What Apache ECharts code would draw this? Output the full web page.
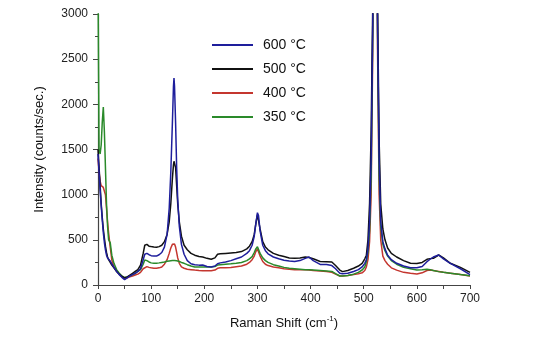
<!DOCTYPE html>
<html>
<head>
<meta charset="utf-8">
<script src="https://cdn.jsdelivr.net/npm/echarts@6/dist/echarts.min.js"></script>
<style>
html,body{margin:0;padding:0;background:#fff;}
#c{width:546px;height:349px;}
</style>
</head>
<body>
<div id="c"></div>
<script>
// Raman shift (cm-1)
const ramanShift = [
  0,2,4,6,8,10,12,14,16,18,
  20,23,26,30,35,40,45,50,55,60,
  65,70,75,80,85,88,92,96,100,105,
  110,115,120,125,130,134,137,140,142,143,
  144,146,148,150,153,157,162,168,175,182,
  190,197,205,213,220,225,230,240,250,260,
  270,280,285,290,294,297,300,302,305,310,
  315,320,330,340,350,360,370,380,390,397,
  405,418,430,440,447,455,460,470,481,490,
  497,502,505,508,511,514,517,519,521,523,
  526,529,532,536,540,545,552,562,575,588,
  600,610,619,625,631,641,650,663,682,700
];
// Intensity (counts/sec.)
const int600 = [
  1450,1250,1050,880,720,580,470,390,330,300,
  285,265,235,195,150,115,85,60,80,100,
  115,130,150,180,280,340,350,335,325,320,
  320,335,360,420,560,850,1250,1800,2200,2290,
  2200,1800,1300,950,650,450,340,270,235,225,
  220,222,205,200,210,235,245,255,270,290,
  310,350,380,440,540,680,800,770,600,440,
  380,345,310,290,275,265,260,270,295,310,
  270,228,228,215,180,130,125,130,150,170,
  200,240,280,400,700,1400,2900,6000,12000,6000,
  2900,1400,700,480,400,330,280,240,210,190,
  190,205,258,285,310,332,290,240,180,115
];
const int500 = [
  1500,1300,1100,900,750,620,520,430,360,310,
  280,250,220,190,150,120,95,80,90,110,
  130,150,170,220,350,440,450,430,425,420,
  418,425,440,480,560,700,900,1180,1330,1370,
  1385,1300,1100,900,700,540,440,390,350,330,
  315,310,295,285,300,340,345,350,355,360,
  370,400,430,480,560,680,780,760,620,480,
  420,390,350,330,315,300,295,300,310,305,
  290,260,258,255,215,165,148,160,185,210,
  240,290,330,500,900,1700,3100,6000,12000,6000,
  3100,1600,900,620,500,410,350,310,270,240,
  238,250,284,292,295,332,300,240,195,140
];
const int400 = [
  1400,1250,1150,1100,1090,1080,1070,1000,850,700,
  575,420,277,200,160,120,90,70,80,90,
  100,110,120,140,180,200,203,195,190,185,
  185,190,200,230,280,350,410,450,461,460,
  455,420,360,300,240,200,185,175,170,165,
  160,159,158,157,165,185,190,192,195,203,
  210,230,250,280,320,370,400,380,320,260,
  230,215,200,190,180,175,170,168,168,165,
  160,155,150,140,120,100,100,105,115,125,
  135,160,200,280,480,1000,2600,6000,12000,6000,
  2600,1000,500,320,270,230,190,165,140,130,
  122,135,160,166,160,150,140,130,115,100
];
const int350 = [
  3400,1500,1450,1550,1800,1970,1700,1300,900,650,
  500,470,330,240,170,130,100,80,90,100,
  115,130,150,170,230,277,270,255,245,241,
  241,245,250,255,262,266,268,270,270,270,
  270,269,268,265,260,250,240,225,210,200,
  200,200,200,200,205,221,225,230,235,241,
  250,270,290,314,360,400,424,410,350,300,
  270,250,225,210,195,185,180,175,170,168,
  165,160,155,150,125,100,100,105,120,140,
  166,200,260,360,600,1200,2800,6000,12000,6000,
  2800,1200,650,450,380,320,270,230,195,180,
  166,170,174,170,160,148,140,130,115,102
];
const seriesNames = ['600 °C','500 °C','400 °C','350 °C'];
const xTicks = [0,100,200,300,400,500,600,700];
const yTicks = [0,500,1000,1500,2000,2500,3000];

const pair = ys => ramanShift.map((x,i)=>[x, ys[i]]);
const FONT = '"Liberation Sans", Arial, sans-serif';
const mk = (name, ys, color) => ({
  name, type:'line', data: pair(ys), symbol:'none', clip:true,
  lineStyle:{color, width:1.5}, itemStyle:{color}, animation:false
});

const chart = echarts.init(document.getElementById('c'));
chart.setOption({
  animation:false,
  textStyle:{fontFamily:FONT},
  grid:{left:98, right:76, top:14, bottom:64},
  legend:{
    data:seriesNames, orient:'vertical', left:207, top:33,
    icon:'rect', itemWidth:41, itemHeight:2, itemGap:10,
    textStyle:{fontSize:14, color:'#111', fontFamily:FONT, padding:[0,0,0,5]}
  },
  xAxis:{
    type:'value', min:xTicks[0], max:xTicks[xTicks.length-1], interval:100,
    name:'Raman Shift (cm{sup|-1})', nameLocation:'middle', nameGap:30,
    nameTextStyle:{fontSize:13, color:'#111', fontFamily:FONT,
      rich:{sup:{fontSize:8, color:'#111', padding:[0,0,8,0]}}},
    axisLine:{lineStyle:{color:'#444', width:1.2}},
    axisTick:{length:4, lineStyle:{color:'#444'}},
    minorTick:{show:true, splitNumber:2, length:4, lineStyle:{color:'#444'}},
    axisLabel:{fontSize:12, color:'#222', margin:8, fontFamily:FONT, formatter: v => String(v)},
    splitLine:{show:false}
  },
  yAxis:{
    type:'value', min:yTicks[0], max:yTicks[yTicks.length-1], interval:500,
    name:'Intensity (counts/sec.)', nameLocation:'middle', nameGap:52,
    nameTextStyle:{fontSize:13, color:'#111', fontFamily:FONT},
    axisLine:{show:true, lineStyle:{color:'#444', width:1.2}},
    axisTick:{show:true, length:5, lineStyle:{color:'#444'}},
    minorTick:{show:true, splitNumber:2, length:3, lineStyle:{color:'#444'}},
    axisLabel:{fontSize:12, color:'#222', margin:10, fontFamily:FONT, formatter: v => String(v)},
    splitLine:{show:false}
  },
  series:[
    mk(seriesNames[2], int400, '#c4362f'),
    mk(seriesNames[3], int350, '#2a8a2a'),
    mk(seriesNames[1], int500, '#111111'),
    mk(seriesNames[0], int600, '#1e1e9c')
  ]
});
</script>
</body>
</html>
